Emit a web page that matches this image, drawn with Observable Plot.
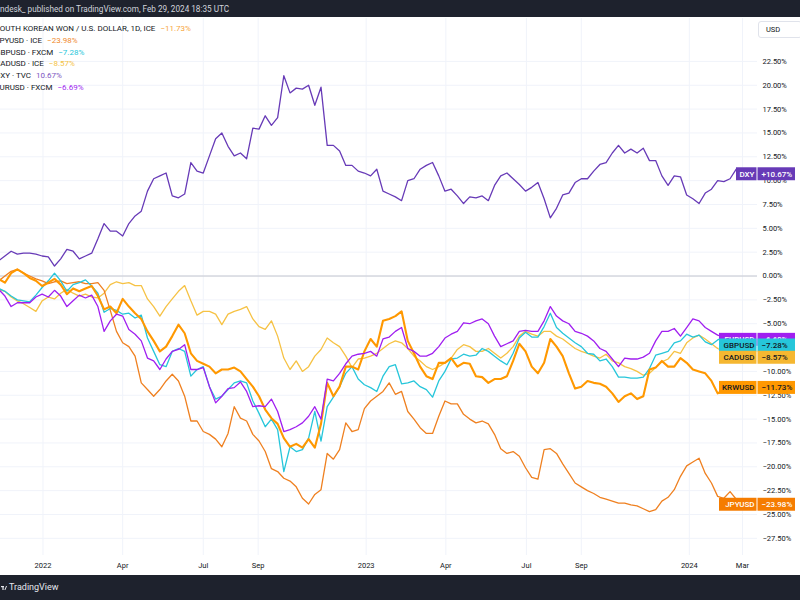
<!DOCTYPE html>
<html><head><meta charset="utf-8">
<script src="https://cdn.jsdelivr.net/npm/d3@7"></script>
<script src="https://cdn.jsdelivr.net/npm/@observablehq/plot@0.6"></script>
<style>
body{margin:0;width:800px;height:600px;overflow:hidden;position:relative;background:#fff;font-family:Roboto,"Noto Sans",sans-serif;}
#top{position:absolute;left:0;top:0;width:800px;height:17px;background:#1e222d;color:#d1d4dc;font-size:8.2px;line-height:18px;white-space:nowrap;}
#chart{position:absolute;left:0;top:18px;}
#legend{position:absolute;left:0;top:23px;font-size:8px;color:#131722;line-height:11.8px;white-space:nowrap;}
#legend div{margin-left:-5px;}
#usd{position:absolute;left:758px;top:21px;width:44px;height:17px;border:1px solid #e0e3eb;border-radius:3px;font-size:7.5px;line-height:16px;padding-left:7px;box-sizing:border-box;color:#131722;background:#fff;}
#bottom{position:absolute;left:0;top:575px;width:800px;height:25px;background:#1e222d;color:#e6e8ee;font-size:9px;line-height:25px;}
#bottom svg{vertical-align:middle;margin:0 2px 0 1px;}
</style></head>
<body>
<div id="top">ndesk_ published on TradingView.com, Feb 29, 2024 18:35 UTC</div>
<div id="chart"></div>
<div id="legend"></div>
<div id="usd">USD</div>
<div id="bottom"><svg width="6" height="6" viewBox="0 0 6 6"><rect x="0" y="1" width="3" height="1.2" fill="#e6e8ee"/><rect x="1.4" y="1" width="1.2" height="4" fill="#e6e8ee"/><path d="M3.4 5 L5 1 L6 1 L4.4 5 Z" fill="#e6e8ee"/></svg>TradingView</div>
<script>
// ---- data (weekly closes, % change) ----
const dates = [
"2021-11-12","2021-11-19","2021-11-26","2021-12-03","2021-12-10","2021-12-17","2021-12-24","2021-12-31",
"2022-01-07","2022-01-14","2022-01-21","2022-01-28","2022-02-04","2022-02-11","2022-02-18","2022-02-25",
"2022-03-04","2022-03-11","2022-03-18","2022-03-25","2022-04-01","2022-04-08","2022-04-15","2022-04-22","2022-04-29",
"2022-05-06","2022-05-13","2022-05-20","2022-05-27","2022-06-03","2022-06-10","2022-06-17","2022-06-24",
"2022-07-01","2022-07-08","2022-07-15","2022-07-22","2022-07-29","2022-08-05","2022-08-12","2022-08-19","2022-08-26",
"2022-09-02","2022-09-09","2022-09-16","2022-09-23","2022-09-30","2022-10-07","2022-10-14","2022-10-21","2022-10-28",
"2022-11-04","2022-11-11","2022-11-18","2022-11-25","2022-12-02","2022-12-09","2022-12-16","2022-12-23","2022-12-30",
"2023-01-06","2023-01-13","2023-01-20","2023-01-27","2023-02-03","2023-02-10","2023-02-17","2023-02-24",
"2023-03-03","2023-03-10","2023-03-17","2023-03-24","2023-03-31","2023-04-07","2023-04-14","2023-04-21","2023-04-28",
"2023-05-05","2023-05-12","2023-05-19","2023-05-26","2023-06-02","2023-06-09","2023-06-16","2023-06-23","2023-06-30",
"2023-07-07","2023-07-14","2023-07-21","2023-07-28","2023-08-04","2023-08-11","2023-08-18","2023-08-25",
"2023-09-01","2023-09-08","2023-09-15","2023-09-22","2023-09-29","2023-10-06","2023-10-13","2023-10-20","2023-10-27",
"2023-11-03","2023-11-10","2023-11-17","2023-11-24","2023-12-01","2023-12-08","2023-12-15","2023-12-22","2023-12-29",
"2024-01-05","2024-01-12","2024-01-19","2024-01-26","2024-02-02","2024-02-09","2024-02-16","2024-02-23","2024-02-29"];

const krwusd = [-0.3,-0.7,0.3,0.7,0.3,-0.2,-0.5,-1.05,-0.7,-0.3,
-0.9,-1.9,-1.3,-1.6,-1.3,-1.05,-2.1,-3.5,-3.2,-3.9,
-2.4,-3.2,-3.9,-4.5,-5.8,-6.8,-7.9,-7.4,-6.3,-5.1,
-6.0,-8.1,-8.9,-9.2,-9.5,-10.2,-9.8,-9.8,-9.6,-10.0,
-10.8,-11.6,-12.6,-14.0,-14.9,-15.5,-17.0,-17.9,-17.6,-18.0,
-17.1,-18.0,-15.5,-11.2,-12.6,-11.6,-9.5,-9.5,-9.8,-7.9,
-6.6,-7.4,-4.7,-4.5,-4.2,-3.7,-6.8,-8.1,-9.5,-10.5,
-10.8,-9.1,-9.1,-8.6,-9.5,-9.1,-9.2,-10.5,-10.6,-11.2,
-10.8,-10.8,-10.5,-8.9,-7.1,-7.9,-9.5,-10.2,-9.1,-6.6,
-7.4,-8.4,-10.2,-11.8,-11.6,-11.0,-11.2,-11.3,-11.6,-12.3,
-13.2,-12.6,-12.3,-12.9,-12.6,-9.8,-9.6,-8.9,-9.5,-9.5,
-8.6,-9.1,-9.8,-10.0,-10.2,-11.0,-12.3,-11.9,-11.8,-11.8,
-11.73];

const jpyusd = [-0.5,0.0,0.5,0.7,0.3,0.0,-0.3,-0.5,-0.8,-0.6,
-0.5,-0.8,-0.7,-0.6,-0.8,-0.8,-0.7,-1.5,-3.6,-5.8,
-7.0,-7.4,-8.4,-11.2,-11.9,-12.6,-11.9,-11.0,-10.3,-11.0,
-12.6,-15.2,-15.2,-16.3,-16.6,-17.1,-17.9,-16.5,-13.7,-14.9,
-15.2,-16.6,-17.3,-18.4,-20.2,-20.5,-21.2,-21.5,-22.1,-23.3,
-23.9,-22.9,-22.4,-18.6,-19.2,-18.2,-15.4,-16.3,-16.1,-13.9,
-13.1,-12.6,-12.1,-11.2,-12.4,-12.1,-14.2,-15.0,-15.9,-16.5,
-16.5,-14.7,-13.1,-13.4,-13.4,-14.5,-15.0,-15.4,-15.2,-15.5,
-16.6,-18.1,-18.6,-18.4,-18.9,-20.1,-21.1,-21.3,-18.2,-18.1,
-18.6,-19.7,-20.7,-21.7,-22.1,-22.5,-22.8,-23.2,-23.4,-23.6,
-23.8,-23.8,-24.0,-24.1,-24.4,-24.7,-24.5,-23.6,-23.2,-22.4,
-21.0,-19.9,-19.5,-19.1,-20.7,-21.7,-23.1,-23.3,-22.6,-23.4,
-23.98];

const gbpusd = [-1.3,-1.6,-2.1,-2.5,-2.6,-2.7,-2.0,-1.2,-0.5,0.3,
-0.5,-1.6,-0.9,-0.7,-0.4,-1.05,-1.8,-3.8,-3.4,-3.6,
-4.0,-3.9,-4.4,-4.1,-6.5,-7.9,-9.3,-9.5,-7.9,-7.6,
-7.9,-10.5,-9.8,-9.5,-11.6,-12.9,-12.6,-11.9,-11.2,-11.0,
-11.2,-13.1,-14.4,-15.8,-15.0,-16.1,-20.5,-17.9,-18.4,-18.2,
-17.0,-14.2,-17.3,-13.7,-12.7,-11.6,-10.2,-9.5,-10.8,-11.4,
-11.7,-12.1,-10.5,-9.5,-9.3,-11.3,-11.2,-11.0,-11.6,-11.9,
-12.7,-11.0,-10.0,-8.7,-8.6,-8.2,-8.4,-8.3,-7.6,-7.9,
-8.4,-8.9,-9.3,-8.1,-6.5,-5.9,-6.4,-6.4,-5.3,-3.9,
-5.4,-6.0,-6.5,-7.0,-7.4,-8.1,-8.2,-8.9,-8.7,-9.5,
-10.6,-10.6,-10.7,-10.7,-10.6,-9.7,-8.3,-8.1,-7.9,-7.0,
-6.8,-6.1,-6.4,-6.2,-6.9,-7.2,-6.7,-6.4,-6.8,-7.0,
-7.28];

const cadusd = [-1.4,-1.6,-2.2,-2.6,-2.9,-3.3,-3.7,-2.6,-2.2,-2.4,
-1.8,-1.4,-1.8,-2.1,-1.9,-2.2,-2.3,-1.8,-0.9,-0.6,
-0.8,-0.7,-1.0,-1.0,-2.4,-3.2,-4.2,-3.2,-2.4,-1.6,
-1.0,-2.6,-4.1,-3.7,-3.7,-4.0,-5.1,-4.0,-3.7,-3.5,
-3.2,-4.5,-5.3,-5.6,-4.7,-6.3,-8.6,-9.8,-8.9,-10.0,
-9.5,-8.4,-7.7,-6.5,-7.0,-7.4,-8.4,-9.6,-8.7,-8.6,
-8.4,-8.1,-7.6,-7.1,-6.8,-7.0,-7.6,-8.4,-8.9,-9.5,
-9.8,-9.5,-9.1,-8.6,-7.7,-7.2,-7.4,-7.9,-7.9,-7.6,
-8.1,-8.6,-8.1,-7.4,-6.3,-5.8,-6.1,-6.3,-5.8,-5.8,
-6.3,-6.6,-7.1,-7.6,-7.9,-8.1,-8.4,-8.6,-8.2,-8.9,
-9.1,-9.5,-9.7,-10.0,-10.4,-10.2,-9.6,-9.0,-8.7,-7.9,
-8.1,-7.0,-6.5,-6.2,-6.6,-7.1,-7.6,-7.9,-8.2,-8.4,
-8.57];

const dxy = [1.6,2.1,2.6,2.3,2.4,2.4,2.3,2.1,2.0,1.05,
1.8,2.8,2.6,1.8,2.1,2.4,3.9,5.5,4.7,4.7,
4.2,5.5,6.3,6.8,8.9,10.2,10.5,10.8,8.4,8.2,
8.6,11.9,11.0,10.8,12.6,14.4,15.0,13.6,12.6,12.9,
12.3,15.5,15.4,16.8,15.8,16.6,21.0,19.2,19.7,19.6,
20.0,17.9,19.8,13.7,13.7,13.1,11.6,11.6,11.0,10.8,
10.5,11.2,8.9,8.6,8.3,7.9,10.0,10.2,11.2,11.6,
11.9,10.5,8.9,9.1,8.4,7.6,8.3,8.2,8.4,7.9,
9.5,10.5,10.8,10.2,9.6,8.9,9.3,9.8,8.1,6.1,
7.1,8.5,8.7,9.8,10.2,10.2,11.0,11.7,11.9,12.9,
13.7,12.9,13.3,12.9,13.4,12.1,12.1,10.5,9.5,10.5,
10.4,8.5,8.1,7.6,8.7,9.1,10.0,9.9,10.2,11.2,
10.67];

const eurusd = [-1.4,-2.1,-3.2,-2.8,-2.8,-2.8,-2.2,-1.9,-2.2,-1.5,
-2.1,-3.2,-2.6,-2.0,-2.3,-2.0,-3.2,-5.8,-4.7,-4.0,
-4.2,-5.6,-6.1,-6.8,-8.6,-8.9,-9.8,-8.7,-7.9,-7.7,
-7.2,-9.8,-9.8,-9.6,-11.6,-13.3,-12.6,-11.8,-11.7,-11.1,
-12.1,-13.7,-13.6,-13.7,-12.9,-14.2,-16.3,-16.1,-15.8,-15.4,
-14.7,-13.7,-15.0,-10.8,-11.0,-10.2,-9.2,-8.4,-8.2,-8.1,
-7.9,-8.4,-6.6,-6.4,-5.8,-5.4,-7.6,-7.9,-8.4,-8.4,
-8.1,-7.4,-6.5,-6.1,-5.8,-4.9,-5.0,-4.7,-4.5,-5.0,
-6.3,-7.4,-7.1,-6.8,-5.8,-5.7,-5.8,-5.8,-4.7,-3.2,
-4.2,-4.7,-5.0,-5.8,-6.0,-6.3,-6.8,-7.6,-7.9,-8.7,
-9.5,-8.6,-8.7,-8.7,-8.5,-8.1,-6.8,-5.8,-5.8,-5.5,
-6.3,-5.4,-4.5,-4.7,-5.4,-5.8,-6.2,-6.4,-6.5,-6.6,
-6.69];

const tickers = ["KRWUSD","JPYUSD","GBPUSD","CADUSD","DXY","EURUSD"];
const legendNames = ["SOUTH KOREAN WON / U.S. DOLLAR, 1D, ICE","JPYUSD · ICE","GBPUSD · FXCM","CADUSD · ICE","DXY · TVC","EURUSD · FXCM"];
const xTickDates = ["2022-01-01","2022-04-01","2022-07-01","2022-09-01","2023-01-01","2023-04-01","2023-07-01","2023-09-01","2024-01-01","2024-03-01"];
const xTickLabels = ["2022","Apr","Jul","Sep","2023","Apr","Jul","Sep","2024","Mar"];
const yTicks = [-27.5,-25,-22.5,-20,-17.5,-15,-12.5,-10,-7.5,-5,-2.5,0,2.5,5,7.5,10,12.5,15,17.5,20,22.5];

// ---- styling ----
const values = {KRWUSD: krwusd, JPYUSD: jpyusd, GBPUSD: gbpusd, CADUSD: cadusd, DXY: dxy, EURUSD: eurusd};
const style = {
  KRWUSD: {line:"#ff9800", label:"#ff9800", text:"#131722", w:2.1, boxW:38},
  JPYUSD: {line:"#ef8020", label:"#f57c00", text:"#ffffff", w:1.3, boxW:38},
  GBPUSD: {line:"#26c6da", label:"#26c6da", text:"#131722", w:1.3, boxW:38},
  CADUSD: {line:"#f6c244", label:"#f5b731", text:"#131722", w:1.3, boxW:38},
  DXY:    {line:"#673ab7", label:"#673ab7", text:"#ffffff", w:1.3, boxW:21},
  EURUSD: {line:"#a01ff0", label:"#a01ff0", text:"#ffffff", w:1.3, boxW:38}
};
const legendColor = {KRWUSD:"#f7a53b", JPYUSD:"#f08a2c", GBPUSD:"#26c6da", CADUSD:"#f5c242", DXY:"#7e57c2", EURUSD:"#a01ff0"};

const fmt2 = d3.format(".2f");
const fmtSigned = d3.format("+.2f");

// legend
const legend = d3.select("#legend");
tickers.forEach((t, i) => {
  const arr = values[t];
  const v = arr[arr.length - 1];
  const row = legend.append("div");
  row.append("span").text(legendNames[i]);
  row.append("span").style("color", legendColor[t]).style("margin-left", "5px").text(fmt2(v) + "%");
});

const rows = [];
tickers.forEach(t => values[t].forEach((v, i) => rows.push({date: new Date(dates[i]), value: v, series: t})));

const drawOrder = ["CADUSD","JPYUSD","GBPUSD","KRWUSD","EURUSD","DXY"];
const lineMarks = drawOrder.map(t => Plot.line(rows.filter(r => r.series === t), {
  x: "date", y: "value", stroke: style[t].line, strokeWidth: style[t].w, strokeLinejoin: "round"
}));

const labelOrder = ["EURUSD","GBPUSD","CADUSD","KRWUSD","JPYUSD","DXY"];
const labelMarks = [];
const half = 0.68;
labelOrder.forEach(t => {
  const arr = values[t];
  const last = [arr[arr.length - 1]];
  const s = style[t];
  labelMarks.push(
    Plot.rect(last, {y1: d => d - half, y2: d => d + half, fill: s.label, insetLeft: 757 - s.boxW, insetRight: 0.5}),
    Plot.rect(last, {y1: d => d - half, y2: d => d + half, fill: s.label, insetLeft: 757.5, insetRight: -38}),
    Plot.text(last, {y: d => d, text: () => t, frameAnchor: "right", textAnchor: "end", dx: -3, fill: s.text, fontSize: 8, fontWeight: 500}),
    Plot.text(last, {y: d => d, text: d => fmtSigned(d) + "%", frameAnchor: "right", textAnchor: "start", dx: 4, fill: s.text, fontSize: 8, fontWeight: 500})
  );
});

const xTicks = xTickDates.map(d => new Date(d));
const labelMap = new Map(xTicks.map((d, i) => [+d, xTickLabels[i]]));

const chart = Plot.plot({
  width: 800, height: 557,
  marginLeft: 0, marginRight: 43, marginTop: 0, marginBottom: 20,
  style: {fontFamily: "Roboto, 'Noto Sans', sans-serif", fontSize: "7.5px", color: "#131722", background: "transparent", overflow: "visible"},
  x: {type: "utc", domain: [new Date("2021-11-14"), new Date("2024-03-18")]},
  y: {domain: [-29.3, 27.0]},
  marks: [
    Plot.gridY(yTicks, {stroke: "#f0f3fa", strokeOpacity: 1}),
    Plot.gridX(xTicks, {stroke: "#f0f3fa", strokeOpacity: 1}),
    Plot.ruleY([0], {stroke: "#c5c8cf", strokeWidth: 1}),
    ...lineMarks,
    Plot.axisY(yTicks, {anchor: "right", tickSize: 0, tickPadding: 5, tickFormat: d => fmt2(d) + "%", fill: "#131722"}),
    Plot.axisX(xTicks, {anchor: "bottom", tickSize: 0, tickPadding: 7, tickFormat: d => labelMap.get(+d), fill: "#131722"}),
    ...labelMarks
  ]
});
document.getElementById("chart").appendChild(chart);
</script>
</body></html>
